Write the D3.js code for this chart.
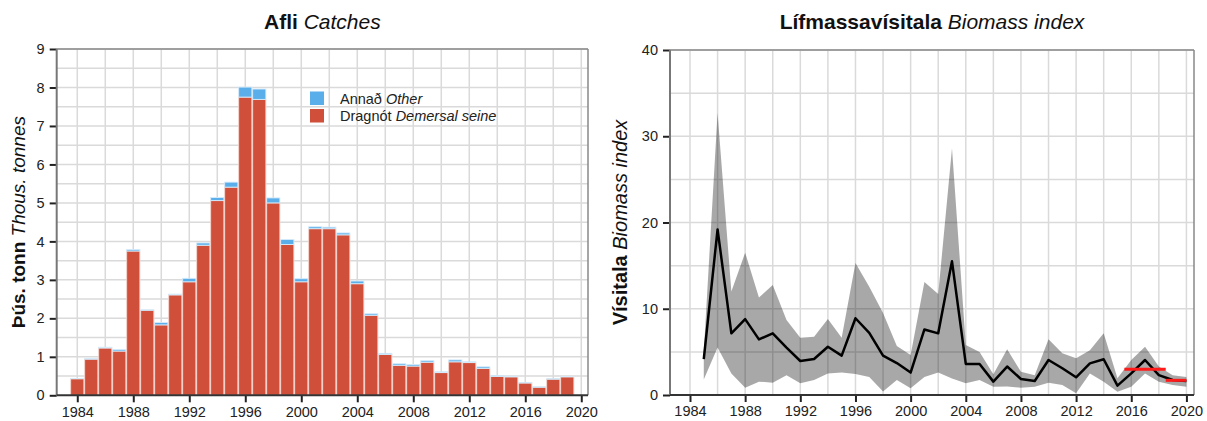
<!DOCTYPE html>
<html><head><meta charset="utf-8">
<script src="https://cdn.jsdelivr.net/npm/d3@7"></script>
<style>
body{margin:0;background:#fff;}
svg text{font-family:"Liberation Sans",Arial,sans-serif;}
</style></head>
<body><svg id="c" width="1207" height="421"></svg>
<script>
// ---- Catches data (thousand tonnes) ----
const catchYears = d3.range(1984, 2020);
const seine = [0.43,0.94,1.23,1.15,3.75,2.21,1.83,2.61,2.95,3.90,5.06,5.41,7.75,7.69,5.00,3.92,2.95,4.33,4.33,4.17,2.90,2.08,1.06,0.78,0.76,0.86,0.59,0.87,0.85,0.70,0.49,0.48,0.32,0.21,0.42,0.48];
const other = [0.01,0.02,0.02,0.04,0.04,0.01,0.06,0.02,0.09,0.06,0.08,0.13,0.26,0.27,0.13,0.13,0.08,0.05,0.04,0.05,0.07,0.04,0.03,0.04,0.04,0.04,0.02,0.05,0.02,0.04,0.02,0.02,0.01,0.01,0.01,0.01];
const catchYTicks = [0,1,2,3,4,5,6,7,8,9];
const xTickYears = [1984,1988,1992,1996,2000,2004,2008,2012,2016,2020];

// ---- Biomass index data ----
const bioYears = d3.range(1985, 2021);
const bioIndex = [4.16,19.2,7.15,8.8,6.45,7.15,5.5,3.94,4.17,5.6,4.56,8.9,7.2,4.56,3.7,2.6,7.6,7.15,15.5,3.6,3.6,1.55,3.3,1.86,1.62,4.06,3.1,2.05,3.67,4.14,1.08,2.5,4.06,2.3,1.74,1.62];
const bioUpper = [5.0,32.7,12.0,16.5,11.3,12.75,8.7,6.65,6.75,8.8,6.65,15.3,12.56,9.5,5.68,4.64,13.1,11.7,28.6,5.8,5.0,2.4,5.3,2.7,2.3,6.45,4.83,4.25,5.2,7.15,1.93,4.06,5.6,3.3,2.3,2.1];
const bioLower = [1.8,5.5,2.5,0.85,1.55,1.43,2.3,1.35,1.74,2.5,2.6,2.43,2.1,0.4,1.74,0.77,2.1,2.6,1.9,1.35,1.74,0.96,1.0,0.85,0.96,1.43,1.16,0.2,2.5,1.55,0.39,0.96,2.5,1.55,1.16,0.96];
const refSegments = [{x0:2015.5,x1:2018.5,v:2.98},{x0:2018.5,x1:2020,v:1.7}];
const bioYTicks = [0,10,20,30,40];

const svg = d3.select("#c");
const gridCol = "#dadada";

function frame(g, x, y, xGrid, yGrid, L, R, T, B){
  g.append("g").selectAll("line").data(xGrid).join("line")
    .attr("x1",d=>x(d)).attr("x2",d=>x(d)).attr("y1",T).attr("y2",B)
    .attr("stroke",gridCol).attr("stroke-width",1.5);
  g.append("g").selectAll("line").data(yGrid).join("line")
    .attr("x1",L).attr("x2",R).attr("y1",d=>y(d)).attr("y2",d=>y(d))
    .attr("stroke",gridCol).attr("stroke-width",1.5);
}
function axes(g, x, y, yTicks, L, R, T, B){
  g.append("line").attr("x1",L).attr("x2",R).attr("y1",T).attr("y2",T).attr("stroke","#888").attr("stroke-width",1.5);
  g.append("line").attr("x1",R).attr("x2",R).attr("y1",T).attr("y2",B).attr("stroke","#888").attr("stroke-width",1.5);
  const ya = g.append("g").attr("transform",`translate(${L},0)`)
    .call(d3.axisLeft(y).tickValues(yTicks).tickSize(7).tickPadding(5).tickFormat(d3.format("d")));
  const xa = g.append("g").attr("transform",`translate(0,${B})`)
    .call(d3.axisBottom(x).tickValues(xTickYears).tickSize(7).tickPadding(4).tickFormat(d3.format("d")));
  [ya,xa].forEach(a=>{
    a.select(".domain").remove();
    a.selectAll(".tick line").attr("stroke","#222").attr("stroke-width",2);
    a.selectAll("text").attr("font-size",14.5).attr("fill","#222")
      .style("font-family","'Liberation Sans',Arial,sans-serif");
  });
  g.append("line").attr("x1",L).attr("x2",L).attr("y1",T).attr("y2",B).attr("stroke","#777").attr("stroke-width",2);
  g.append("line").attr("x1",L).attr("x2",R).attr("y1",B).attr("y2",B).attr("stroke","#333").attr("stroke-width",2);
}
function title(x, y, bold, ital, size){
  const t = svg.append("text").attr("x",x).attr("y",y).attr("text-anchor","middle").attr("font-size",size).attr("fill","#111");
  t.append("tspan").attr("font-weight","bold").text(bold);
  t.append("tspan").attr("font-style","italic").text(" "+ital);
}
function ylabel(x, y, bold, ital, size){
  const t = svg.append("text").attr("transform",`translate(${x},${y}) rotate(-90)`).attr("text-anchor","middle").attr("font-size",size).attr("fill","#111");
  t.append("tspan").attr("font-weight","bold").text(bold);
  t.append("tspan").attr("font-style","italic").text(" "+ital);
}

// ---------- Left chart ----------
{
  const L=56.7,R=588,T=49,B=395.3;
  const x = d3.scaleLinear().domain([1982.53,2020.48]).range([L,R]);
  const y = d3.scaleLinear().domain([0,9]).range([B,T]);
  const g = svg.append("g");
  frame(g,x,y,d3.range(1984,2021,2),d3.range(0.5,9.01,0.5),L,R,T,B);
  const bw = 13.2;
  const bars = g.append("g");
  catchYears.forEach((yr,i)=>{
    bars.append("rect").attr("x",x(yr)-bw/2).attr("width",bw)
      .attr("y",y(seine[i])).attr("height",y(0)-y(seine[i]))
      .attr("fill","#d04f3b").attr("stroke","#f3d6cf").attr("stroke-width",0.9);
    bars.append("rect").attr("x",x(yr)-bw/2).attr("width",bw)
      .attr("y",y(seine[i]+other[i])).attr("height",y(seine[i])-y(seine[i]+other[i]))
      .attr("fill","#5aaeea").attr("stroke","#d6ebfa").attr("stroke-width",0.9);
  });
  axes(g,x,y,catchYTicks,L,R,T,B);
  const lg = g.append("g");
  lg.append("rect").attr("x",310).attr("y",91.5).attr("width",14).attr("height",13.5).attr("fill","#5aaeea");
  lg.append("rect").attr("x",310).attr("y",109).attr("width",14).attr("height",13.5).attr("fill","#d04f3b");
  const t1 = lg.append("text").attr("x",340).attr("y",104).attr("font-size",14.5).attr("fill","#222");
  t1.append("tspan").text("Annað "); t1.append("tspan").attr("font-style","italic").text("Other");
  const t2 = lg.append("text").attr("x",340).attr("y",121).attr("font-size",14.5).attr("fill","#222");
  t2.append("tspan").text("Dragnót "); t2.append("tspan").attr("font-style","italic").text("Demersal seine");
  title((L+R)/2, 29, "Afli", "Catches", 21);
  ylabel(25, (T+B)/2, "Þús. tonn", "Thous. tonnes", 19);
}

// ---------- Right chart ----------
{
  const L=670,R=1194,T=50,B=395;
  const x = d3.scaleLinear().domain([1982.55,2020.55]).range([L,R]);
  const y = d3.scaleLinear().domain([0,40]).range([B,T]);
  const g = svg.append("g");
  frame(g,x,y,d3.range(1984,2021,2),d3.range(5,40.01,5),L,R,T,B);
  const area = d3.area().x((d,i)=>x(bioYears[i])).y0((d,i)=>y(bioLower[i])).y1((d,i)=>y(bioUpper[i]));
  g.append("path").datum(bioYears).attr("d",area).attr("fill","#000").attr("fill-opacity",0.34);
  const line = d3.line().x((d,i)=>x(bioYears[i])).y(d=>y(d));
  g.append("path").datum(bioIndex).attr("d",line).attr("fill","none").attr("stroke","#000").attr("stroke-width",2.5).attr("stroke-linejoin","round");
  g.append("g").selectAll("line").data(refSegments).join("line")
    .attr("x1",d=>x(d.x0)).attr("x2",d=>x(d.x1)).attr("y1",d=>y(d.v)).attr("y2",d=>y(d.v))
    .attr("stroke","#ff1a1a").attr("stroke-width",3);
  axes(g,x,y,bioYTicks,L,R,T,B);
  title((L+R)/2, 29, "Lífmassavísitala", "Biomass index", 21);
  ylabel(627, (T+B)/2, "Vísitala", "Biomass index", 20);
}
</script></body></html>
